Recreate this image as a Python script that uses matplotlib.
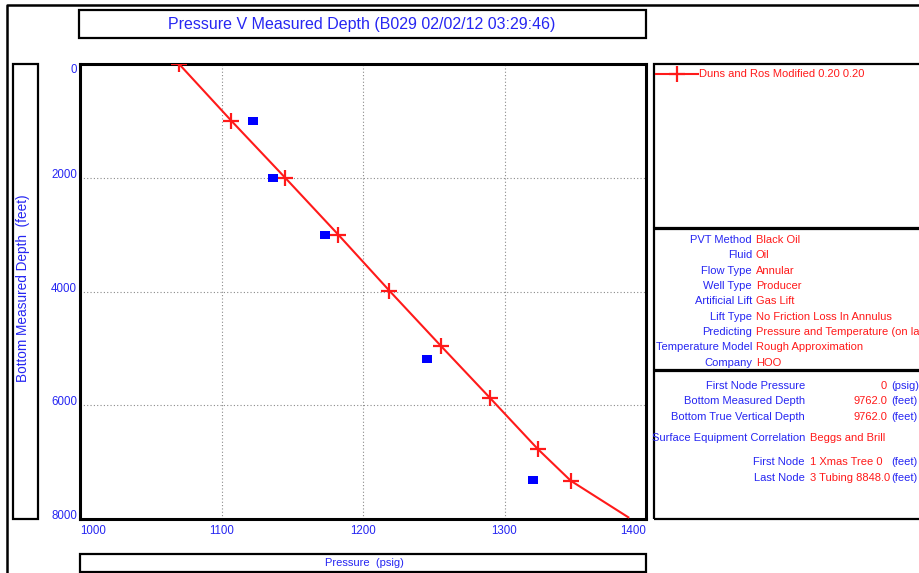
import matplotlib
matplotlib.use("Agg")
import matplotlib.pyplot as plt
from matplotlib.patches import Rectangle
from matplotlib.lines import Line2D

plt.rcParams["font.family"] = ["Liberation Sans", "DejaVu Sans"]

BLUE = "#2626F2"
RED = "#FF1A1A"
FS = 8.0

# model curve (Duns and Ros Modified)
calc_pressure = [1070, 1107, 1145, 1182.5, 1218.6, 1254.9, 1290, 1323.5, 1346.8, 1387.5]
calc_depth = [0, 1000, 2000, 3000, 3985, 4953, 5878, 6769, 7327, 7970]
# markers only on the computed nodes, the last point is the line end
marker_idx = list(range(9))

# measured gauge points
meas_pressure = [1122, 1136.2, 1172.9, 1245.2, 1320.4]
meas_depth = [1000, 2000, 3000, 5187, 7310]

x_ticks = [1000, 1100, 1200, 1300, 1400]
y_ticks = [0, 2000, 4000, 6000, 8000]

title = "Pressure V Measured Depth (B029 02/02/12 03:29:46)"
legend_label = "Duns and Ros Modified 0.20 0.20"

pvt_labels = ["PVT Method", "Fluid", "Flow Type", "Well Type", "Artificial Lift",
              "Lift Type", "Predicting", "Temperature Model", "Company"]
pvt_values = ["Black Oil", "Oil", "Annular", "Producer", "Gas Lift",
              "No Friction Loss In Annulus", "Pressure and Temperature (on land)",
              "Rough Approximation", "HOO"]

depth_labels = ["First Node Pressure", "Bottom Measured Depth", "Bottom True Vertical Depth"]
depth_values = ["0", "9762.0", "9762.0"]
depth_units = ["(psig)", "(feet)", "(feet)"]

node_labels = ["First Node", "Last Node"]
node_values = ["1 Xmas Tree 0", "3 Tubing 8848.0"]

W, H = 920, 573
fig = plt.figure(figsize=(W / 100, H / 100), dpi=100)
fig.patch.set_facecolor("white")


def fx(x):
    return x / W


def fy(y):
    return 1 - y / H


def box(x0, y0, x1, y1, lw=1.6):
    fig.add_artist(Rectangle((fx(x0), fy(y1)), fx(x1) - fx(x0), fy(y0) - fy(y1),
                             transform=fig.transFigure, fill=False,
                             edgecolor="black", linewidth=lw, clip_on=False))


def ftext(x, y, s, color=BLUE, ha="left", size=FS, **kw):
    fig.text(fx(x), fy(y), s, color=color, ha=ha, va="center", fontsize=size, **kw)


# outer window frame
fig.add_artist(Line2D([fx(7), fx(7), 1.0], [0, fy(5), fy(5)], transform=fig.transFigure,
                      color="black", linewidth=1.8))

# main plot
ax = fig.add_axes([fx(80), fy(519), fx(646) - fx(80), fy(64) - fy(519)])
ax.plot(calc_pressure, calc_depth, color=RED, linewidth=1.5, marker="+",
        markersize=11, markeredgewidth=1.6, markevery=marker_idx, zorder=3)
rect_marker = [(-1.25, -1), (1.25, -1), (1.25, 1), (-1.25, 1), (-1.25, -1)]
ax.plot(meas_pressure, meas_depth, linestyle="none", marker=rect_marker, markersize=6.5,
        color="#0000FF", markeredgewidth=0, zorder=3)

ax.set_xlim(1000, 1400)
ax.set_ylim(8000, 0)
ax.set_xticks(x_ticks)
ax.set_yticks(y_ticks)
ax.tick_params(length=0, labelsize=8.3, labelcolor=BLUE)
ax.tick_params(axis="x", pad=4)
ax.tick_params(axis="y", pad=2)
ax.grid(True, color="#8a8a8a", linestyle=(0, (1, 2)), linewidth=0.8)
for sp in ax.spines.values():
    sp.set_linewidth(2.2)
    sp.set_color("black")

xl = ax.get_xticklabels()
xl[0].set_ha("left")
xl[-1].set_ha("right")
for i, t in enumerate(ax.get_yticklabels()):
    t.set_va("top" if i == 0 else "baseline")

# title, axis label boxes
box(79, 10, 646, 38)
ftext(362, 24, title, ha="center", size=11.5)
box(13, 64, 38, 519)
fig.text(fx(23), fy(288), "Bottom Measured Depth  (feet)", color=BLUE, rotation=90,
         ha="center", va="center", fontsize=9.8)
box(80, 554, 646, 572)
ftext(364, 563, "Pressure  (psig)", ha="center")

# legend panel
box(654, 64, 930, 228)
fig.add_artist(Line2D([fx(656), fx(698)], [fy(74), fy(74)], transform=fig.transFigure,
                      color=RED, linewidth=1.5))
fig.add_artist(Line2D([fx(677)], [fy(74)], transform=fig.transFigure, color=RED,
                      marker="+", markersize=11, markeredgewidth=1.6))
ftext(699, 74, legend_label, color=RED)

# PVT / well panel
box(654, 229, 930, 370)
for i, (lab, val) in enumerate(zip(pvt_labels, pvt_values)):
    y = 240 + i * 15.35
    ftext(752, y, lab, ha="right")
    ftext(756, y, val, color=RED)

# depth / node panel
box(654, 371, 930, 519)
for i, (lab, val, unit) in enumerate(zip(depth_labels, depth_values, depth_units)):
    y = 386 + i * 15.3
    ftext(805, y, lab, ha="right")
    ftext(887, y, val, color=RED, ha="right")
    ftext(891, y, unit)
ftext(805, 438, "Surface Equipment Correlation", ha="right")
ftext(810, 438, "Beggs and Brill", color=RED)
for i, (lab, val) in enumerate(zip(node_labels, node_values)):
    y = 462 + i * 16
    ftext(805, y, lab, ha="right")
    ftext(810, y, val, color=RED)
    ftext(891, y, "(feet)")

fig.savefig("out.png", dpi=100)
